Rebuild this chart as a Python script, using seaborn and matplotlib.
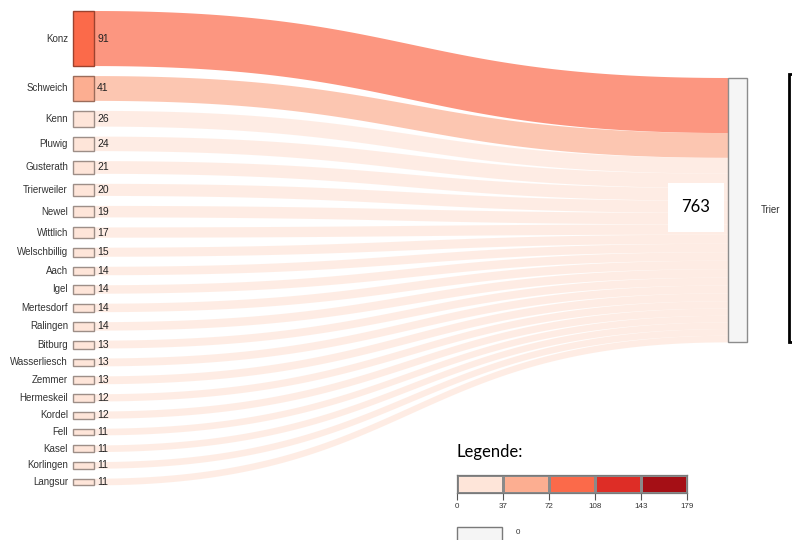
import numpy as np
import matplotlib
matplotlib.use("Agg")
import matplotlib.pyplot as plt
from matplotlib.patches import Rectangle, Polygon
from matplotlib.colors import ListedColormap, to_rgb
import seaborn as sns

# data
sources = ['Konz', 'Schweich', 'Kenn', 'Pluwig', 'Gusterath', 'Trierweiler', 'Newel',
           'Wittlich', 'Welschbillig', 'Aach', 'Igel', 'Mertesdorf', 'Ralingen', 'Bitburg',
           'Wasserliesch', 'Zemmer', 'Hermeskeil', 'Kordel', 'Fell', 'Kasel', 'Korlingen', 'Langsur']
values = [91, 41, 26, 24, 21, 20, 19, 17, 15, 14, 14, 14, 14, 13, 13, 13, 12, 12, 11, 11, 11, 11]
target = 'Trier'
target_total = 763
bins = [0, 37, 72, 108, 143, 179]
bin_colors = ['#fee5d9', '#fcae91', '#fb6a4a', '#de2d26', '#a50f15']
zero_color = '#f5f5f5'

sns.set_theme(style="white")
plt.rcParams['font.family'] = ['Liberation Sans', 'DejaVu Sans']

fig = plt.figure(figsize=(7.92, 5.40), dpi=100)
ax = fig.add_axes([0, 0, 1, 1])
ax.set_xlim(0, 792)
ax.set_ylim(540, 0)
ax.axis('off')

# layout
x_left, node_w = 73, 21
x_right, right_w = 728, 19
top, gap, scale = 11, 10, 0.605


def bin_color(v):
    i = int(np.clip(np.digitize(v, bins) - 1, 0, len(bin_colors) - 1))
    return bin_colors[i]


def darker(c, f=0.62):
    return tuple(np.array(to_rgb(c)) * f)


def bezier(x0, y0, x1, y1, n=80):
    t = np.linspace(0, 1, n)
    xm = (x0 + x1) / 2
    x = (1 - t) ** 3 * x0 + 3 * (1 - t) ** 2 * t * xm + 3 * (1 - t) * t ** 2 * xm + t ** 3 * x1
    y = (1 - t) ** 3 * y0 + 3 * (1 - t) ** 2 * t * y0 + 3 * (1 - t) * t ** 2 * y1 + t ** 3 * y1
    return x, y


total_shown = sum(values)
right_top = 78
right_h = total_shown * scale

y = top
y_r = right_top
for name, v in zip(sources, values):
    h = v * scale
    col = bin_color(v)
    # flow band
    xt, yt = bezier(x_left + node_w, y, x_right, y_r)
    xb, yb = bezier(x_left + node_w, y + h, x_right, y_r + h)
    pts = np.vstack([np.column_stack([xt, yt]), np.column_stack([xb[::-1], yb[::-1]])])
    ax.add_patch(Polygon(pts, closed=True, facecolor=col, alpha=0.7, edgecolor='none', zorder=1))
    # node
    ax.add_patch(Rectangle((x_left, y), node_w, h, facecolor=col, edgecolor=darker(col),
                           linewidth=1, zorder=3))
    ax.text(x_left - 5, y + h / 2, name, ha='right', va='center', fontsize=7,
            color='#333333', zorder=4)
    ax.text(x_left + node_w + 3, y + h / 2, str(v), ha='left', va='center', fontsize=7.5,
            color='#222222', zorder=4)
    y += h + gap
    y_r += h

# target node
ax.add_patch(Rectangle((x_right, right_top), right_w, right_h, facecolor=zero_color,
                       edgecolor='#8c8c8c', linewidth=1, zorder=3))
ax.text(x_right + right_w + 14, right_top + right_h / 2, target, ha='left', va='center',
        fontsize=7, color='#333333')

# total box
bx_w, bx_h = 56, 49
ax.add_patch(Rectangle((x_right - 4 - bx_w, right_top + right_h / 2 - bx_h / 2 - 3), bx_w, bx_h,
                       facecolor='white', edgecolor='none', zorder=5))
ax.text(x_right - 4 - bx_w / 2, right_top + right_h / 2 - 3, str(target_total),
        ha='center', va='center', fontsize=12, family=['Lato', 'DejaVu Sans'], color='black', zorder=6)

# bracket
bx = 789
ax.plot([792, bx, bx, 792], [right_top - 4, right_top - 4, right_top + right_h, right_top + right_h],
        color='black', linewidth=2, solid_joinstyle='miter', clip_on=False, zorder=5)

# legend
ax.text(457, 452, 'Legende:', ha='left', va='center', fontsize=12,
        family=['Lato', 'DejaVu Sans'], color='black')
ax_leg = fig.add_axes([457 / 792, 1 - 493 / 540, 230 / 792, 18 / 540])
sns.heatmap(np.arange(len(bin_colors)).reshape(1, -1), cmap=ListedColormap(bin_colors),
            cbar=False, linewidths=0.8, linecolor='#8a8a8a', ax=ax_leg)
for s in ax_leg.spines.values():
    s.set_visible(True)
    s.set_color('#7a7a7a')
    s.set_linewidth(0.9)
ax_leg.set_xticks(range(len(bins)))
ax_leg.set_xticklabels([str(b) for b in bins], rotation=0)
ax_leg.set_yticks([])
ax_leg.tick_params(axis='x', bottom=True, length=5, width=0.8, color='#555555',
                   labelsize=5.8, labelcolor='#333333', pad=2)

ax.add_patch(Rectangle((457, 527), 45, 16, facecolor=zero_color, edgecolor='#7a7a7a',
                       linewidth=1, clip_on=True))
ax.text(518, 533, '0', ha='center', va='center', fontsize=5.8, color='#333333')

fig.savefig('out.png', dpi=100)
